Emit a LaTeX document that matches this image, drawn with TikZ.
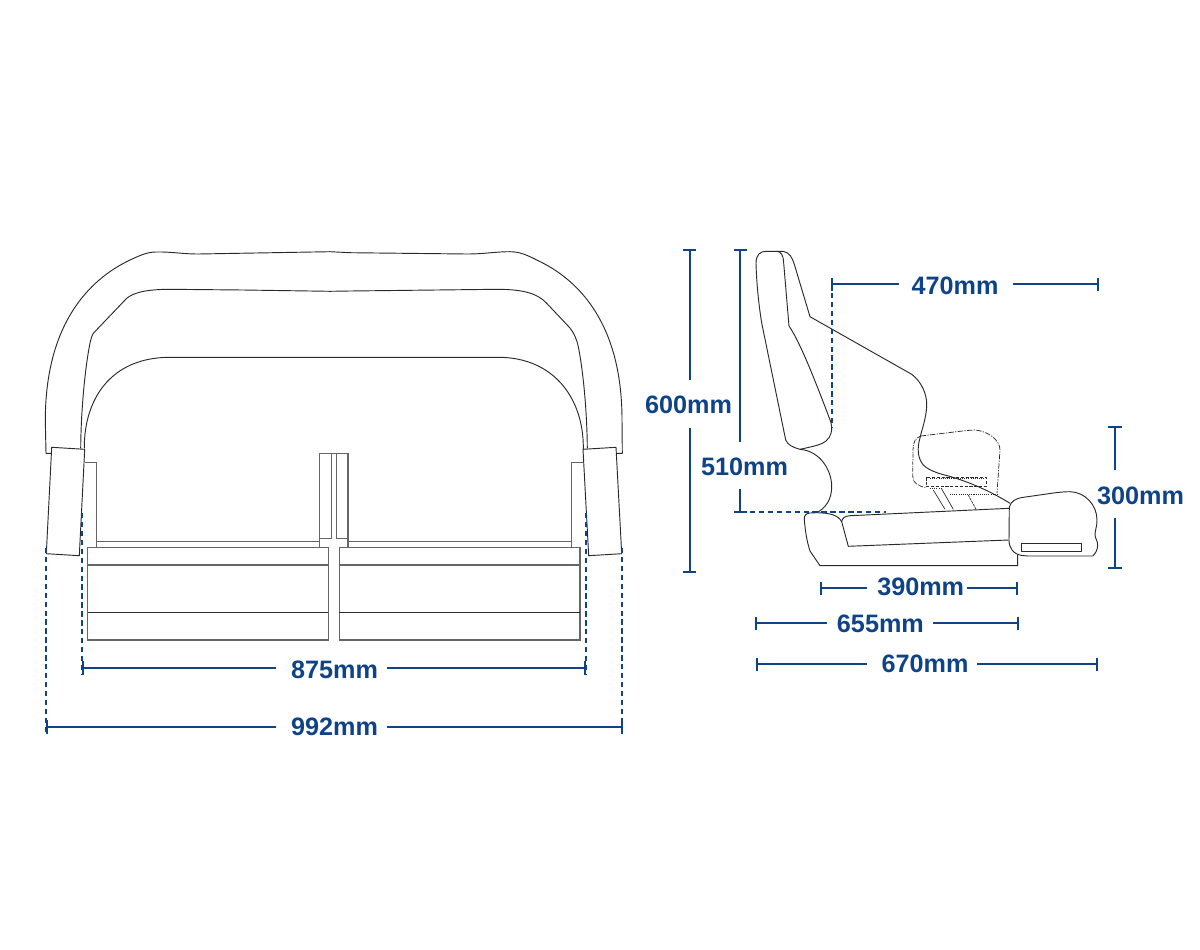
\documentclass[tikz,border=0pt]{standalone}
\usepackage{fontspec}
\setmainfont{Liberation Sans}
\definecolor{dimblue}{HTML}{0F4388}
\definecolor{inkline}{HTML}{2A2A2A}
\tikzset{
  seat/.style={draw=inkline,line width=0.7pt,line join=round},
  seatgrey/.style={draw=inkline!72,line width=0.9pt},
  dimline/.style={draw=dimblue,line width=1.4pt},
  dimtick/.style={draw=dimblue,line width=1.3pt},
  dimdash/.style={draw=dimblue,line width=1.5pt,dash pattern=on 4pt off 2.7pt},
  dimlabel/.style={text=dimblue,font=\bfseries\fontsize{18.9}{20}\selectfont,inner sep=0pt,anchor=center},
}
\begin{document}
\begin{tikzpicture}[x=0.75pt,y=-0.75pt]
\useasboundingbox (0,0) rectangle (1200,950);
\fill[white] (0,0) rectangle (1200,950);
% ---------- front view ----------
\draw[seat] (51.7,453.3) -- (46,453.3) -- (45.3,420)
  .. controls (45.5,325) and (88,280) .. (130,260)
  .. controls (140,255.5) and (147,252) .. (156,252)
  .. controls (172,251.7) and (182,254) .. (198.3,254)
  -- (330,251.7) -- (350,252.7) -- (466.7,254)
  .. controls (485,254) and (495,251.7) .. (510,251.7)
  .. controls (520,251.7) and (528,255.5) .. (536.7,260)
  .. controls (580,280) and (622,325) .. (622,420)
  -- (622.3,453.3) -- (616.7,453.3);
\draw[seat] (80.7,448.3) .. controls (81,410) and (85,370) .. (89.3,346.7)
  .. controls (90.5,340) and (92,335) .. (93.3,333.3)
  -- (126.7,298.3) .. controls (133,293) and (145,289.3) .. (170,289.3)
  -- (243,290) -- (330,291.3) -- (350,291) -- (496.7,289.3)
  .. controls (525,289.3) and (538,294) .. (546.7,303.3)
  -- (570,328) .. controls (574,333) and (577,340) .. (578.3,346.7)
  .. controls (583,370) and (587,410) .. (587.3,448.3);
\draw[seat] (84.3,448.3) .. controls (84,400) and (110,357.3) .. (170,357.3)
  -- (498.3,357.3) .. controls (555,357.3) and (584,400) .. (583.3,449);
\draw[seat] (51.7,447.3) -- (84.7,449.3) -- (79.3,555.7) -- (46.3,553.7) -- cycle;
\draw[seat] (583,449.3) -- (616,447.3) -- (621.7,553.7) -- (588.7,555.7) -- cycle;
\draw[seatgrey] (84.7,462.3) -- (96.3,462.3) -- (96.3,547.3);
\draw[seatgrey] (583,462.3) -- (571.3,462.3) -- (571.3,547.3);
\draw[seatgrey] (96.3,541.7) -- (319.3,541.7);
\draw[seatgrey] (348,541.7) -- (571.3,541.7);
\draw[seatgrey] (319.3,547.3) -- (319.3,453.7) -- (348,453.7) -- (348,547.3);
\draw[seatgrey] (331.3,453.7) -- (331.3,538.3) -- (319.3,538.3);
\draw[seatgrey] (336.3,453.7) -- (336.3,538.3) -- (348,538.3);
\draw[seatgrey] (87.7,547.3) rectangle (328.3,640);
\draw[seatgrey] (339.3,547.3) rectangle (580,640);
\draw[seatgrey] (87.7,565) -- (328.3,565) (339.3,565) -- (580,565);
\draw[seat] (87.7,612.3) -- (328.3,612.3) (339.3,612.3) -- (580,612.3);
% ---------- side view ----------
\draw[seat] (800,449.3) .. controls (792,447) and (788,445) .. (785.7,440)
  -- (761.7,323) .. controls (758,300) and (756.5,280) .. (756,263.3)
  .. controls (756,255) and (760,251.3) .. (766,251.3) -- (776.7,251.3)
  .. controls (781,251.3) and (783.3,256) .. (783.5,261) -- (789,326)
  .. controls (800,342) and (815,380) .. (830.7,421.7)
  .. controls (833,430) and (831,437) .. (826,441)
  .. controls (822,444.5) and (815,446) .. (800,449.3);
\draw[seat] (776.7,251.3) -- (783,251.3) .. controls (790,252.5) and (792,258) .. (794,263.3)
  -- (810,316.7) -- (911.7,374.3)
  .. controls (922,382) and (927,395) .. (926.7,405)
  .. controls (926.5,418) and (921,432) .. (920,438)
  .. controls (917,448) and (917.5,458) .. (923.3,465)
  .. controls (930,472) and (945,475) .. (952,477)
  .. controls (975,484) and (995,494) .. (1010,503.3);
\draw[seat] (800,449.3) .. controls (820,451) and (831.7,470) .. (831.7,486.7)
  .. controls (831.7,500) and (825,508.5) .. (816.7,512.7);
\draw[seat] (816.7,512.7) -- (810,513) .. controls (806,513.5) and (804.3,515) .. (804.3,519)
  .. controls (805,530) and (807,542) .. (810,551) -- (820,565.7)
  -- (1017.7,565.7) -- (1017.7,555);
\draw[seat] (816.7,512.7) .. controls (830,513) and (838,515) .. (841.7,521.7)
  -- (848.3,546.3) -- (1008.5,540);
\draw[seat] (841.7,521.7) .. controls (842,518) and (845,516) .. (850,515.7) -- (1009.3,508.3);
\draw[seat] (1009.3,507) .. controls (1011,501) and (1016,498.5) .. (1022,497.5)
  -- (1050,493.5) .. controls (1058,492.3) and (1064,491.7) .. (1070,491.7)
  .. controls (1085,492) and (1097,505) .. (1097,520)
  .. controls (1097,527) and (1095,530) .. (1095,535)
  .. controls (1095,538) and (1097.7,541) .. (1097.7,545)
  .. controls (1097.7,550) and (1095,554) .. (1092.7,556)
  -- (1028,556) -- (1022,555.5) .. controls (1013,554) and (1009,548) .. (1009,540) -- cycle;
\draw[seat] (1021.3,543.3) rectangle (1081.3,551.3);
% headrest / hidden position
\draw[seat,line width=0.55pt,dash pattern=on 4pt off 1pt on 1pt off 1pt] (920.7,436) -- (966.7,430.5) -- (975,430)
  .. controls (988,431) and (1000,440) .. (1000,450) -- (997,493);
\draw[seat,line width=0.55pt,dash pattern=on 3pt off 1pt on 0.6pt off 0.6pt] (920.7,436)
  .. controls (915,438) and (913,443) .. (913,450) -- (912.7,476)
  .. controls (913,483) and (917,485.5) .. (926,487.7);
\draw[seat,line width=0.5pt,dash pattern=on 2.4pt off 1.2pt] (926,477.3) rectangle (986,486.7);
\draw[seat,dash pattern=on 0.8pt off 0.8pt] (930,478.3) -- (985,478.3);
\draw[seat,dash pattern=on 0.8pt off 0.8pt] (930,488.3) -- (941,488.3);
\draw[seat,dash pattern=on 0.8pt off 0.8pt] (950,494) -- (997,494);
\draw[seat,line width=0.5pt] (933.3,490) -- (945,509.3) (941.7,489) -- (953.3,509.3);
\draw[seat,line width=0.5pt,dash pattern=on 2pt off 0.6pt] (968.3,495) -- (976,509.3);
% ---------- dimension labels ----------
\node[dimlabel] (d875) at (334.5,670) {875mm};
\node[dimlabel] (d992) at (334.5,727) {992mm};
\node[dimlabel] (d600) at (688.5,405) {600mm};
\node[dimlabel] (d510) at (744.5,467) {510mm};
\node[dimlabel] (d470) at (955,286) {470mm};
\node[dimlabel] (d300) at (1140.5,496) {300mm};
\node[dimlabel] (d390) at (920.7,587.3) {390mm};
\node[dimlabel] (d655) at (880.4,624) {655mm};
\node[dimlabel] (d670) at (925,664) {670mm};
% end points
\coordinate (a875l) at (83,668); \coordinate (b875l) at (276,668);
\coordinate (a875r) at (585,668); \coordinate (b875r) at (387,668);
\coordinate (a992l) at (47,727); \coordinate (b992l) at (276,727);
\coordinate (a992r) at (622,727); \coordinate (b992r) at (387,727);
\coordinate (a600t) at (689.7,250); \coordinate (b600t) at (689.7,380);
\coordinate (a600b) at (689.7,571.7); \coordinate (b600b) at (689.7,428.3);
\coordinate (a510t) at (740.3,250); \coordinate (b510t) at (740.3,441.7);
\coordinate (a510b) at (740.3,511.7); \coordinate (b510b) at (740.3,489.3);
\coordinate (a470l) at (832,284.3); \coordinate (b470l) at (899,284.3);
\coordinate (a470r) at (1097.7,284.3); \coordinate (b470r) at (1012.7,284.3);
\coordinate (a300t) at (1115,427.3); \coordinate (b300t) at (1115,470);
\coordinate (a300b) at (1115,568.3); \coordinate (b300b) at (1115,518.3);
\coordinate (a390l) at (821,588.3); \coordinate (b390l) at (867.3,588.3);
\coordinate (a390r) at (1016.7,588.3); \coordinate (b390r) at (967.3,588.3);
\coordinate (a655l) at (756,623.3); \coordinate (b655l) at (827.3,623.3);
\coordinate (a655r) at (1017.7,623.3); \coordinate (b655r) at (933.3,623.3);
\coordinate (a670l) at (756.7,664.3); \coordinate (b670l) at (867.3,664.3);
\coordinate (a670r) at (1096.7,664.3); \coordinate (b670r) at (976.7,664.3);
\foreach \n in {875l,875r,992l,992r,600t,600b,510t,510b,470l,470r,300t,300b,390l,390r,655l,655r,670l,670r}
  \draw[dimline] (a\n) -- (b\n);
\foreach \n in {875l,875r,992l,992r,470l,470r,390l,390r,655l,655r,670l,670r}
  \draw[dimtick] ([yshift=4.9pt]a\n) -- ([yshift=-4.9pt]a\n);
\foreach \n in {600t,600b,510t,510b,300t,300b}
  \draw[dimtick] ([xshift=-4.9pt]a\n) -- ([xshift=4.9pt]a\n);
% dashed extension lines
\coordinate (e875l) at (82,513); \coordinate (e875r) at (585.7,513);
\coordinate (e992l) at (46,548); \coordinate (e992r) at (622,548);
\coordinate (f875l) at (82,674); \coordinate (f875r) at (585.7,674);
\coordinate (f992l) at (46,733); \coordinate (f992r) at (622,733);
\coordinate (e470) at (832,284); \coordinate (f470) at (832,428);
\coordinate (e510) at (741,511.7); \coordinate (f510) at (886,511.7);
\foreach \p/\q in {e875l/f875l,e875r/f875r,e992l/f992l,e992r/f992r,e470/f470,e510/f510}
  \draw[dimdash] (\p) -- (\q);
\end{tikzpicture}
\end{document}
